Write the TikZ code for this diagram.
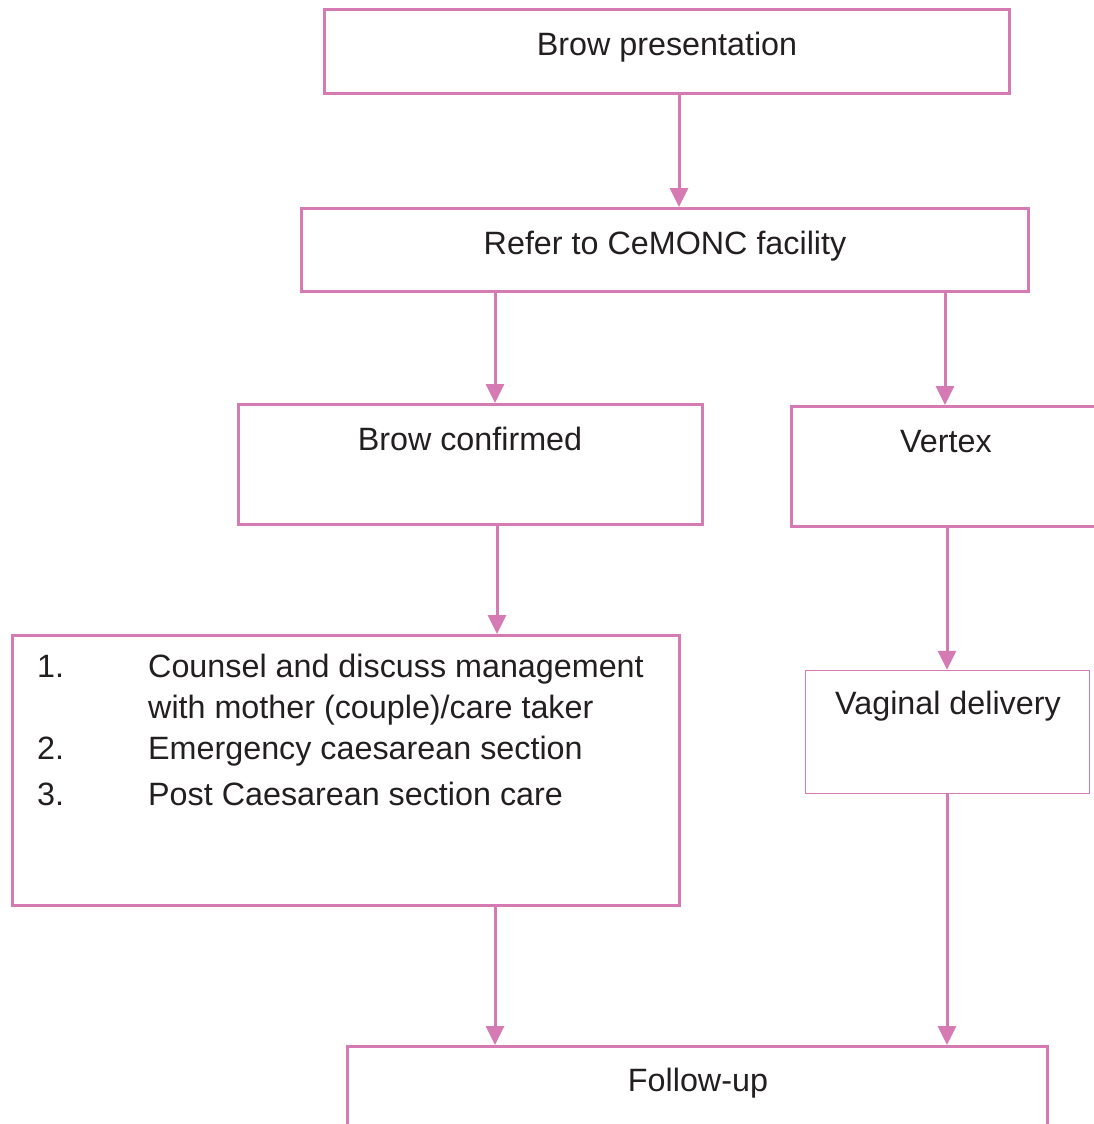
\documentclass[tikz,border=0pt]{standalone}
\usepackage{fontspec}
\setmainfont{Liberation Sans}
\usetikzlibrary{arrows.meta}
\definecolor{flowpink}{RGB}{214,122,180}
\definecolor{ink}{RGB}{35,31,32}
\begin{document}
\begin{tikzpicture}[x=1pt,y=-1pt,
  box/.style={draw=flowpink, line width=3pt, rectangle, inner sep=0pt},
  thinbox/.style={box, line width=1.5pt},
  lbl/.style={text=ink, font=\fontsize{32.3}{38}\selectfont, inner sep=0pt},
  flow/.style={draw=flowpink, line width=3pt, -{Triangle[length=19pt,width=18pt]}}]
\useasboundingbox (0,0) rectangle (1094,1124);
\clip (0,0) rectangle (1094,1124);

% boxes
\node[box, minimum width=685pt, minimum height=84pt]  (pres)    at (666.5,51.5) {};
\node[box, minimum width=727pt, minimum height=83pt]  (refer)   at (665,250) {};
\node[box, minimum width=464pt, minimum height=120pt] (conf)    at (470.5,464.5) {};
\node[box, minimum width=409pt, minimum height=120pt] (vertex)  at (995.5,466.5) {};
\node[box, minimum width=667pt, minimum height=270pt] (counsel) at (346,770.5) {};
\node[thinbox, minimum width=284pt, minimum height=123pt] (vaginal) at (947.5,732) {};
\node[box, minimum width=700pt, minimum height=153pt] (follow)  at (697.5,1123) {};

% texts
\node[lbl, anchor=base] (tpres)    at (667,56)   {Brow presentation};
\node[lbl, anchor=base] (trefer)   at (665,254)  {Refer to CeMONC facility};
\node[lbl, anchor=base] (tconf)    at (470,450)  {Brow confirmed};
\node[lbl, anchor=base] (tvertex)  at (946,452)  {Vertex};
\node[lbl, anchor=base] (tvaginal) at (948,714)  {Vaginal delivery};
\node[lbl, anchor=base] (tfollow)  at (698,1091) {Follow-up};

\node[lbl, anchor=base west] (n1) at (37,677)  {1.};
\node[lbl, anchor=base west] (i1) at (148,677) {Counsel and discuss management};
\node[lbl, anchor=base west] (i1b) at (148,718) {with mother (couple)/care taker};
\node[lbl, anchor=base west] (n2) at (37,759)  {2.};
\node[lbl, anchor=base west] (i2) at (148,759) {Emergency caesarean section};
\node[lbl, anchor=base west] (n3) at (37,805)  {3.};
\node[lbl, anchor=base west] (i3) at (148,805) {Post Caesarean section care};

% connector columns
\coordinate (c1) at (679,0);
\coordinate (c2) at (495,0);
\coordinate (c3) at (945,0);
\coordinate (c4) at (497,0);
\coordinate (c5) at (947,0);

% connectors
\draw[flow] (pres.south -| c1)    -- (refer.north -| c1);
\draw[flow] (refer.south -| c2)   -- (conf.north -| c2);
\draw[flow] (refer.south -| c3)   -- (vertex.north -| c3);
\draw[flow] (conf.south -| c4)    -- (counsel.north -| c4);
\draw[flow] (vertex.south -| c5)  -- (vaginal.north -| c5);
\draw[flow] (counsel.south -| c2) -- (follow.north -| c2);
\draw[flow] (vaginal.south -| c5) -- (follow.north -| c5);
\end{tikzpicture}
\end{document}
